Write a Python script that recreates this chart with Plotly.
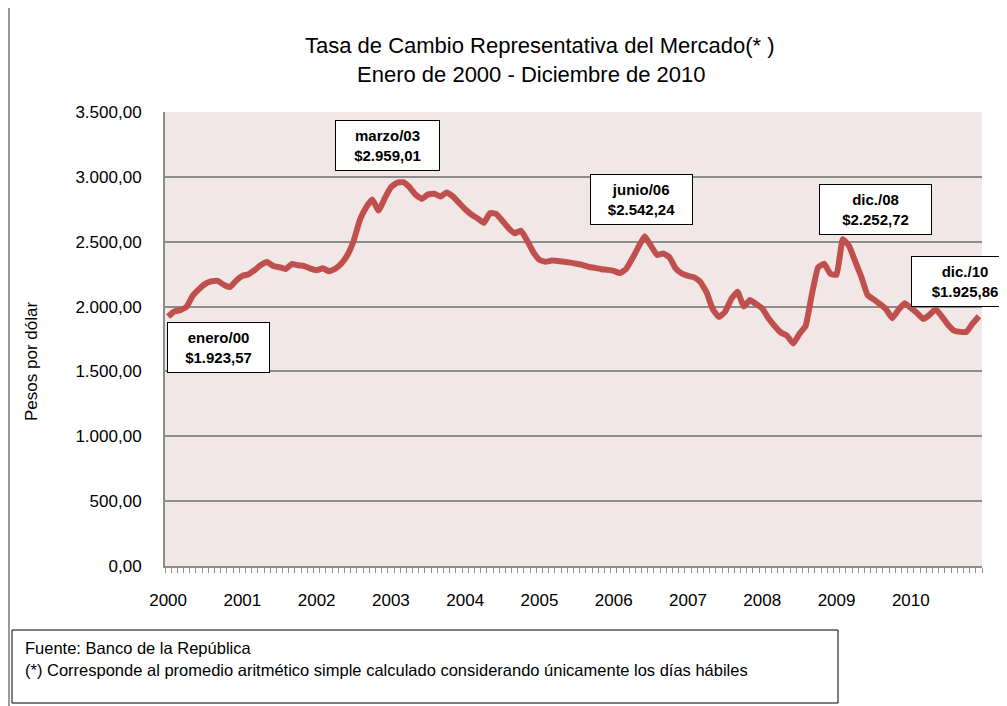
import plotly.graph_objects as go

# ---- data -------------------------------------------------------------
years = [2000, 2001, 2002, 2003, 2004, 2005, 2006, 2007, 2008, 2009, 2010]
year_labels = [str(y) for y in years]

trm_2000 = [1923.57, 1962, 1972, 2000, 2085, 2135, 2175, 2195, 2198, 2168, 2150, 2200]
trm_2001 = [2237, 2249, 2282, 2320, 2343, 2313, 2303, 2290, 2328, 2318, 2312, 2292]
trm_2002 = [2280, 2295, 2272, 2292, 2332, 2400, 2510, 2670, 2765, 2825, 2740, 2835]
trm_2003 = [2920, 2955, 2959.01, 2920, 2862, 2830, 2865, 2870, 2848, 2880, 2850, 2800]
trm_2004 = [2750, 2710, 2680, 2645, 2720, 2715, 2662, 2605, 2565, 2585, 2510, 2420]
trm_2005 = [2360, 2345, 2355, 2352, 2345, 2339, 2330, 2320, 2305, 2298, 2288, 2283]
trm_2006 = [2275, 2258, 2290, 2370, 2460, 2542.24, 2470, 2398, 2410, 2380, 2295, 2255]
trm_2007 = [2237, 2225, 2190, 2110, 1980, 1920, 1960, 2060, 2115, 2000, 2050, 2020]
trm_2008 = [1985, 1910, 1850, 1800, 1775, 1715, 1790, 1850, 2090, 2300, 2330, 2252.72]
trm_2009 = [2245, 2520, 2470, 2350, 2230, 2090, 2055, 2020, 1980, 1910, 1975, 2025]
trm_2010 = [1990, 1950, 1905, 1935, 1980, 1925, 1860, 1815, 1805, 1805, 1870, 1925.86]

values = (trm_2000 + trm_2001 + trm_2002 + trm_2003 + trm_2004 + trm_2005
          + trm_2006 + trm_2007 + trm_2008 + trm_2009 + trm_2010)
month_idx = list(range(len(values)))

# highlighted points: (label, month index of the value, box centre x, box centre y)
callouts = [
    ("enero/00", 0, 8.1, 1685),
    ("marzo/03", 38, 35.4, 3242),
    ("junio/06", 77, 76.5, 2826),
    ("dic./08", 107, 114.3, 2749),
    ("dic./10", 131, 128.7, 2190),
]
box_w = {"enero/00": 99, "marzo/03": 101, "junio/06": 99, "dic./08": 109, "dic./10": 104}

title_l1 = "Tasa de Cambio Representativa del Mercado(* )"
title_l2 = "Enero de 2000 - Diciembre de 2010"
y_title = "Pesos por dólar"
foot1 = "Fuente: Banco de la República"
foot2 = "(*) Corresponde al promedio aritmético simple calculado considerando únicamente los días hábiles"


def fmt_es(v):
    s = f"{v:,.2f}"
    return s.replace(",", "X").replace(".", ",").replace("X", ".")


# ---- figure (page has an 8px body margin) ---------------------------------
OFF = 8
W, H = 1007 - OFF, 706 - OFF
L = 165 - OFF
T = 112 - OFF
R = W - (982 - OFF)
B = H - (566 - OFF)
pw, ph = W - L - R, H - T - B
FONT = "Liberation Sans, Arial"


def px_x(x):  # page pixel -> paper
    return (x - OFF - L) / pw


def px_y(y):
    return (H - B - (y - OFF)) / ph


fig = go.Figure()
fig.add_trace(go.Scatter(
    x=month_idx, y=values, mode="lines",
    line=dict(color="#C0504D", width=6, shape="spline", smoothing=0.35),
    hoverinfo="skip", showlegend=False,
))

annotations = []
for lab, idx, bx, by in callouts:
    annotations.append(dict(
        x=bx, y=by, xref="x", yref="y",
        text=f"<b>{lab}<br>{'$' + fmt_es(values[idx])}</b>",
        showarrow=False, align="center",
        font=dict(family=FONT, size=15, color="black"),
        bgcolor="white", bordercolor="black", borderwidth=1, borderpad=1,
        width=box_w[lab], height=47,
    ))

annotations += [
    dict(x=px_x(540), y=px_y(45), xref="paper", yref="paper", showarrow=False,
         text=title_l1, font=dict(family=FONT, size=22, color="black"),
         xanchor="center", yanchor="middle"),
    dict(x=px_x(531), y=px_y(75), xref="paper", yref="paper", showarrow=False,
         text=title_l2, font=dict(family=FONT, size=22, color="black"),
         xanchor="center", yanchor="middle"),
    dict(x=px_x(31), y=px_y(362), xref="paper", yref="paper", showarrow=False,
         text=y_title, textangle=-90,
         font=dict(family=FONT, size=17, color="black"),
         xanchor="center", yanchor="middle"),
    dict(x=px_x(23), y=px_y(648), xref="paper", yref="paper", showarrow=False,
         text=foot1, font=dict(family=FONT, size=16.5, color="black"),
         xanchor="left", yanchor="middle"),
    dict(x=px_x(23), y=px_y(670), xref="paper", yref="paper", showarrow=False,
         text=foot2, font=dict(family=FONT, size=16.5, color="black"),
         xanchor="left", yanchor="middle"),
]

shapes = [
    dict(type="rect", xref="paper", yref="paper",
         x0=px_x(12), x1=px_x(838), y0=px_y(703), y1=px_y(630),
         line=dict(color="black", width=1), fillcolor="rgba(0,0,0,0)"),
    dict(type="line", xref="paper", yref="paper",
         x0=px_x(9), x1=px_x(9), y0=px_y(OFF), y1=px_y(706),
         line=dict(color="#9A9A9A", width=2)),
]

fig.update_layout(
    width=W, height=H,
    margin=dict(l=L, r=R, t=T, b=B),
    paper_bgcolor="white",
    plot_bgcolor="#F2E7E7",
    separators=",.",
    font=dict(family=FONT, color="black"),
    annotations=annotations,
    shapes=shapes,
    showlegend=False,
)

fig.update_xaxes(
    range=[-0.5, len(values) - 0.5],
    tickmode="array",
    tickvals=[12 * k for k in range(len(years))],
    ticktext=year_labels,
    ticks="", ticklen=0,
    ticklabelstandoff=18,
    tickfont=dict(size=17, color="black"),
    showgrid=False, zeroline=False,
    showline=True, linecolor="#8C8C8C", linewidth=1.5,
    minor=dict(ticks="outside", tick0=-0.5, dtick=1, ticklen=5,
               tickcolor="#8C8C8C", tickwidth=1, showgrid=False),
    fixedrange=True,
)

fig.update_yaxes(
    range=[0, 3500], dtick=500, tick0=0,
    tickformat=",.2f",
    tickfont=dict(size=17, color="black"),
    showgrid=True, gridcolor="#8C8C8C", gridwidth=1.5,
    zeroline=False,
    showline=True, linecolor="#8C8C8C", linewidth=2,
    ticks="", ticklabelstandoff=18,
    fixedrange=True,
)

fig.write_html("out.html")
